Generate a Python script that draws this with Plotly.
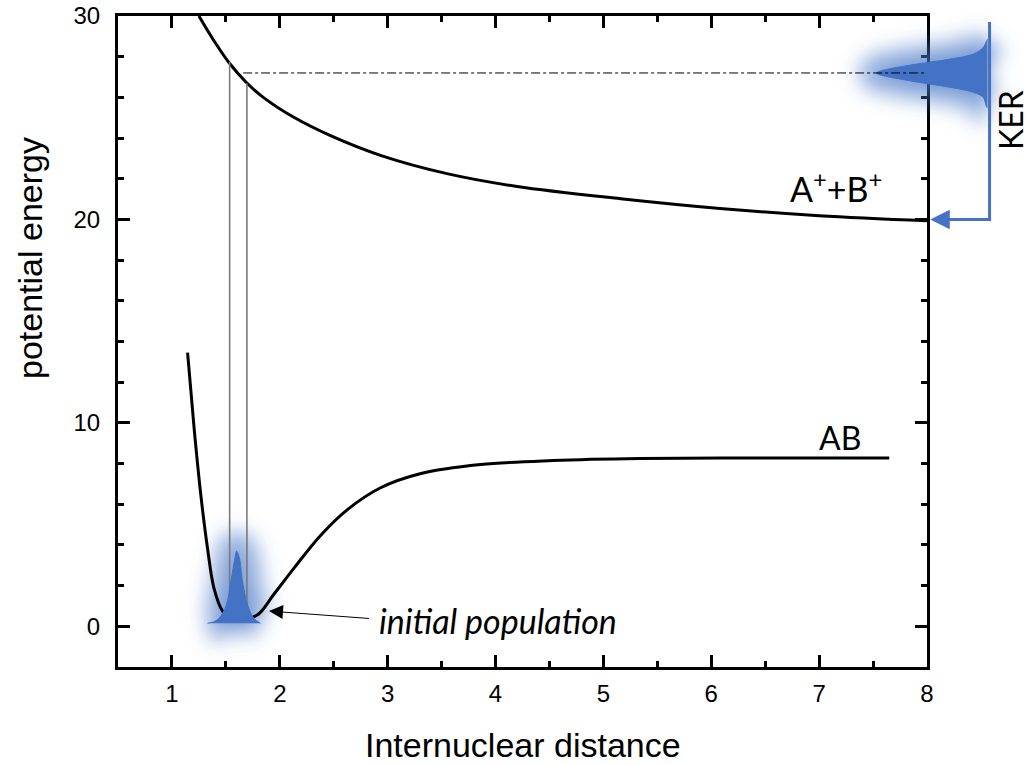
import plotly.graph_objects as go

# ---- potential energy curves (internuclear distance, energy) ----
AB_X = [1.145, 1.206, 1.268, 1.33, 1.39, 1.47, 1.55, 1.62, 1.79, 1.94, 2.13,
        2.38, 2.63, 2.93, 3.30, 3.86, 4.53, 5.34, 6.5, 7.65]
AB_Y = [13.45, 9.72, 6.45, 3.83, 1.87, 0.74, 0.32, 0.30, 0.55, 1.54, 2.85,
        4.48, 5.75, 6.80, 7.50, 7.95, 8.15, 8.25, 8.27, 8.27]

ION_X = [1.25, 1.39, 1.53, 1.69, 1.85, 2.13, 2.47, 2.94, 3.56, 4.2,
         5.16, 6.08, 7.0, 8.0]
ION_Y = [30.0, 28.78, 27.7, 26.73, 25.99, 25.02, 24.12, 23.14, 22.24, 21.62,
         21.02, 20.54, 20.18, 19.93]

# vertical transitions (Franck-Condon window)
TRANS_X = [1.535, 1.695]
TRANS_Y0 = [0.3, 0.3]
TRANS_Y1 = [27.75, 26.7]

# initial wave packet profile
PACKET_X = [1.33, 1.42, 1.50, 1.546, 1.583, 1.60, 1.627, 1.654, 1.706, 1.76, 1.82]
PACKET_Y = [0.15, 0.31, 0.98, 2.2, 3.33, 3.69, 3.33, 2.2, 0.98, 0.39, 0.15]

# kinetic energy release distribution (sideways profile)
KER_PX = [8.56, 8.553, 8.521, 8.429, 8.120, 7.812, 7.534,
          7.812, 8.120, 8.429, 8.521, 8.553, 8.56]
KER_PY = [28.85, 28.78, 28.45, 28.13, 27.80, 27.56, 27.2,
          26.84, 26.58, 26.25, 26.0, 25.52, 25.5]
KER_LEVEL = 27.2
KER_BAR_X = 8.58
KER_BAR_TOP = 29.7
ASYMPTOTE = 20.0

X_RANGE = [0.5, 8.0]
Y_RANGE = [-2.0, 30.0]
X_TICKS = [1, 2, 3, 4, 5, 6, 7, 8]
Y_TICKS = [0, 10, 20, 30]

W, H = 1030, 765
X_DOM = [118 / W, 927 / W]
Y_DOM = [1 - 667 / H, 1 - 16 / H]

BLUE = "#4472C4"
AX_FONT = "Liberation Sans, Arial, sans-serif"
LBL_FONT = "Lato, Open Sans, sans-serif"


def full_range(rng, dom):
    span = (rng[1] - rng[0]) / (dom[1] - dom[0])
    return [rng[0] - dom[0] * span, rng[1] + (1 - dom[1]) * span]


def on_overlay(**kw):
    return go.Scatter(xaxis="x2", yaxis="y2", hoverinfo="skip",
                      showlegend=False, **kw)


HALO = "rgba(68,114,196,0.55)"

fig = go.Figure()

# frame subplot (axes only)
fig.add_trace(go.Scatter(x=[None], y=[None], mode="lines", showlegend=False))

# soft halo below the initial packet (blurred in the page script)
fig.add_trace(on_overlay(x=PACKET_X, y=PACKET_Y, mode="lines", fill="toself",
                         fillcolor=HALO, uid="halo1",
                         line=dict(color=HALO, width=40, shape="spline")))

# potential curves
fig.add_trace(on_overlay(x=AB_X, y=AB_Y, mode="lines",
                         line=dict(color="black", width=3, shape="spline")))
fig.add_trace(on_overlay(x=ION_X, y=ION_Y, mode="lines",
                         line=dict(color="black", width=3, shape="spline")))

# vertical transitions
for tx, ty0, ty1 in zip(TRANS_X, TRANS_Y0, TRANS_Y1):
    fig.add_trace(on_overlay(x=[tx, tx], y=[ty0, ty1], mode="lines",
                             line=dict(color="#7a7a7a", width=1.6)))

# initial packet body
fig.add_trace(on_overlay(x=PACKET_X, y=PACKET_Y, mode="lines", fill="toself",
                         fillcolor=BLUE, line=dict(color=BLUE, width=1, shape="spline")))

# KER distribution with halo
fig.add_trace(on_overlay(x=KER_PX, y=KER_PY, mode="lines", fill="toself",
                         fillcolor=HALO, uid="halo2",
                         line=dict(color=HALO, width=36, shape="spline")))
fig.add_trace(on_overlay(x=KER_PX, y=KER_PY, mode="lines", fill="toself",
                         fillcolor=BLUE, line=dict(color=BLUE, width=1, shape="spline")))
fig.add_trace(on_overlay(x=[KER_BAR_X, KER_BAR_X, 8.12],
                         y=[KER_BAR_TOP, ASYMPTOTE, ASYMPTOTE], mode="lines",
                         line=dict(color=BLUE, width=3)))

# dash-dot level of the final state
fig.add_trace(on_overlay(x=[1.66, X_RANGE[1]], y=[KER_LEVEL, KER_LEVEL], mode="lines",
                         line=dict(color="black", width=1, dash="dashdot")))

axis_common = dict(
    showline=True, linecolor="black", linewidth=3, mirror="ticks",
    ticks="inside", ticklen=12, tickwidth=2.5, tickcolor="black",
    showgrid=False, zeroline=False, automargin=False,
    tickfont=dict(family=AX_FONT, size=24, color="black"),
)

fig.update_layout(
    width=W, height=H,
    margin=dict(l=0, r=0, t=0, b=0, pad=0, autoexpand=False),
    paper_bgcolor="white", plot_bgcolor="rgba(0,0,0,0)",
    xaxis=dict(domain=X_DOM, range=X_RANGE, tickvals=X_TICKS,
               minor=dict(ticks="inside", ticklen=6, tickwidth=2.5,
                          dtick=0.5, tick0=0, tickcolor="black", showgrid=False),
               anchor="y", ticklabelstandoff=3, **axis_common),
    yaxis=dict(domain=Y_DOM, range=Y_RANGE, tickvals=Y_TICKS,
               minor=dict(ticks="inside", ticklen=6, tickwidth=2.5,
                          dtick=2, tick0=0, tickcolor="black", showgrid=False),
               anchor="x", ticklabelstandoff=10, **axis_common),
    xaxis2=dict(domain=[0, 1], range=full_range(X_RANGE, X_DOM), visible=False,
                anchor="y2", fixedrange=True, automargin=False),
    yaxis2=dict(domain=[0, 1], range=full_range(Y_RANGE, Y_DOM), visible=False,
                anchor="x2", fixedrange=True, automargin=False),
    showlegend=False,
)

ann = []
# axis titles
ann.append(dict(text="Internuclear distance", xref="paper", yref="paper",
                x=523 / W, y=1 - 745 / H, xanchor="center", yanchor="middle",
                showarrow=False, font=dict(family=AX_FONT, size=34, color="black")))
ann.append(dict(text="potential energy", xref="paper", yref="paper",
                x=30 / W, y=1 - 258 / H, xanchor="center", yanchor="middle",
                showarrow=False, textangle=-90,
                font=dict(family=AX_FONT, size=34, color="black")))
# curve labels
ann.append(dict(text="A<sup>+</sup>+B<sup>+</sup>", xref="x2", yref="y2",
                x=7.16, y=21.6, showarrow=False,
                font=dict(family=LBL_FONT, size=34, color="black")))
ann.append(dict(text="AB", xref="x2", yref="y2", x=7.19, y=9.3, showarrow=False,
                font=dict(family=LBL_FONT, size=32, color="black")))
ann.append(dict(text="KER", xref="x2", yref="y2", x=8.78, y=24.9, showarrow=False,
                textangle=-90, font=dict(family=LBL_FONT, size=32, color="black")))
ann.append(dict(text="<i>initial population</i>", xref="x2", yref="y2",
                x=2.90, y=0.3, xanchor="left", showarrow=False,
                font=dict(family=LBL_FONT, size=34, color="black")))
# arrows
ann.append(dict(text="", xref="x2", yref="y2", x=1.90, y=0.75,
                axref="x2", ayref="y2", ax=2.84, ay=0.38,
                showarrow=True, arrowhead=2, arrowsize=2.8, arrowwidth=1,
                arrowcolor="black", standoff=0))
ann.append(dict(text="", xref="x2", yref="y2", x=8.03, y=ASYMPTOTE,
                axref="x2", ayref="y2", ax=8.2, ay=ASYMPTOTE,
                showarrow=True, arrowhead=2, arrowsize=1.3, arrowwidth=3,
                arrowcolor=BLUE, standoff=0))
fig.update_layout(annotations=ann)

# blur the halo traces with an SVG filter
HALO_JS = """
var gd = document.getElementById('{plot_id}');
function addHalo() {
  var svg = gd.querySelector('.main-svg');
  if (!svg) return;
  var ns = 'http://www.w3.org/2000/svg';
  var defs = svg.querySelector('defs');
  if (!defs) { defs = document.createElementNS(ns, 'defs'); svg.insertBefore(defs, svg.firstChild); }
  if (!svg.querySelector('#softhalo')) {
    var f = document.createElementNS(ns, 'filter');
    f.setAttribute('id', 'softhalo');
    f.setAttribute('x', '-100%'); f.setAttribute('y', '-100%');
    f.setAttribute('width', '300%'); f.setAttribute('height', '300%');
    var b = document.createElementNS(ns, 'feGaussianBlur');
    b.setAttribute('stdDeviation', '10');
    f.appendChild(b);
    defs.appendChild(f);
  }
  gd.querySelectorAll('.tracehalo1, .tracehalo2').forEach(function (g) {
    g.setAttribute('filter', 'url(#softhalo)');
  });
}
addHalo();
gd.on('plotly_afterplot', addHalo);
"""

fig.write_html("out.html", post_script=HALO_JS)
